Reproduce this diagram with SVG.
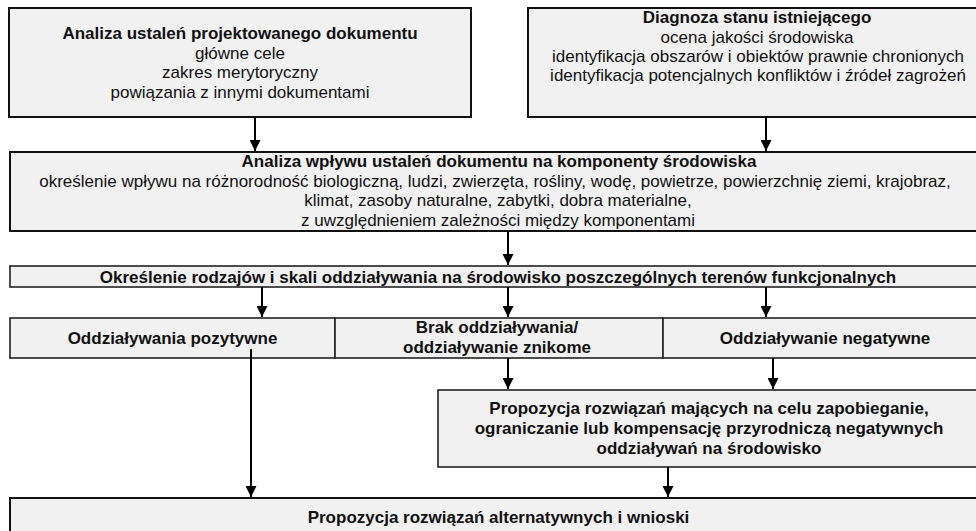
<svg xmlns="http://www.w3.org/2000/svg" width="976" height="531" viewBox="0 0 976 531">
  <defs>
    <style>
      .box { fill: #f1f1f1; stroke: #111; stroke-width: 2; }
      .thin { fill: #f1f1f1; stroke: #222; stroke-width: 1.6; }
      .div { stroke: #222; stroke-width: 1.6; }
      text { font-family: "Liberation Sans", Arial, sans-serif; font-size: 17px; fill: #111; text-anchor: middle; }
      .b { font-weight: bold; }
      .conn line { stroke: #000; stroke-width: 2; marker-end: url(#arr); }
    </style>
    <marker id="arr" markerUnits="userSpaceOnUse" markerWidth="11" markerHeight="11" viewBox="0 0 10 10" refX="10" refY="5" orient="auto">
      <path d="M0,0 L10,5 L0,10 Z" fill="#000"/>
    </marker>
  </defs>
  <rect width="976" height="531" fill="#fff"/>

  <g id="n1">
    <rect class="box" x="9" y="8" width="462" height="109"/>
    <text class="b" x="240" y="39">Analiza ustaleń projektowanego dokumentu</text>
    <text x="240" y="58.5">główne cele</text>
    <text x="240" y="78">zakres merytoryczny</text>
    <text x="240" y="97.5">powiązania z innymi dokumentami</text>
  </g>

  <g id="n2">
    <rect class="box" x="528" y="8" width="462" height="109"/>
    <text class="b" x="757" y="23">Diagnoza stanu istniejącego</text>
    <text x="757" y="42.5">ocena jakości środowiska</text>
    <text x="758" y="62">identyfikacja obszarów i obiektów prawnie chronionych</text>
    <text x="758" y="81">identyfikacja potencjalnych konfliktów i źródeł zagrożeń</text>
  </g>

  <g id="n3">
    <rect class="box" x="10" y="152" width="978" height="79"/>
    <text class="b" x="499" y="167">Analiza wpływu ustaleń dokumentu na komponenty środowiska</text>
    <text x="495" y="186.5">określenie wpływu na różnorodność biologiczną, ludzi, zwierzęta, rośliny, wodę, powietrze, powierzchnię ziemi, krajobraz,</text>
    <text x="498" y="206">klimat, zasoby naturalne, zabytki, dobra materialne,</text>
    <text x="498" y="225.5">z uwzględnieniem zależności między komponentami</text>
  </g>

  <g id="n4">
    <rect class="thin" x="10" y="266" width="978" height="21"/>
    <text class="b" x="498" y="282.5">Określenie rodzajów i skali oddziaływania na środowisko poszczególnych terenów funkcjonalnych</text>
  </g>

  <g id="n5">
    <rect class="thin" x="10" y="318" width="325" height="40"/>
    <text class="b" x="172.5" y="344">Oddziaływania pozytywne</text>
  </g>

  <g id="n6">
    <rect class="thin" x="335" y="318" width="328" height="40"/>
    <text class="b" x="497" y="333">Brak oddziaływania/</text>
    <text class="b" x="497" y="353">oddziaływanie znikome</text>
  </g>

  <g id="n7">
    <rect class="thin" x="663" y="318" width="325" height="40"/>
    <text class="b" x="825" y="344">Oddziaływanie negatywne</text>
  </g>

  <g id="n8">
    <rect class="thin" x="438" y="390" width="550" height="77"/>
    <text class="b" x="709" y="413.5">Propozycja rozwiązań mających na celu zapobieganie,</text>
    <text class="b" x="709" y="433.5">ograniczanie lub kompensację przyrodniczą negatywnych</text>
    <text class="b" x="709" y="453.5">oddziaływań na środowisko</text>
  </g>

  <g id="n9">
    <rect class="box" x="10" y="498" width="978" height="45"/>
    <text class="b" x="498.5" y="522.5">Propozycja rozwiązań alternatywnych i wnioski</text>
  </g>

  <g id="connectors" class="conn">
    <line x1="255" y1="117" x2="255" y2="151"/>
    <line x1="766" y1="117" x2="766" y2="151"/>
    <line x1="508" y1="231" x2="508" y2="265"/>
    <line x1="262" y1="287" x2="262" y2="317"/>
    <line x1="508" y1="287" x2="508" y2="317"/>
    <line x1="766" y1="287" x2="766" y2="317"/>
    <line x1="251" y1="349" x2="251" y2="497"/>
    <line x1="508" y1="358" x2="508" y2="389"/>
    <line x1="773" y1="358" x2="773" y2="389"/>
    <line x1="668" y1="467" x2="668" y2="497"/>
  </g>
</svg>
